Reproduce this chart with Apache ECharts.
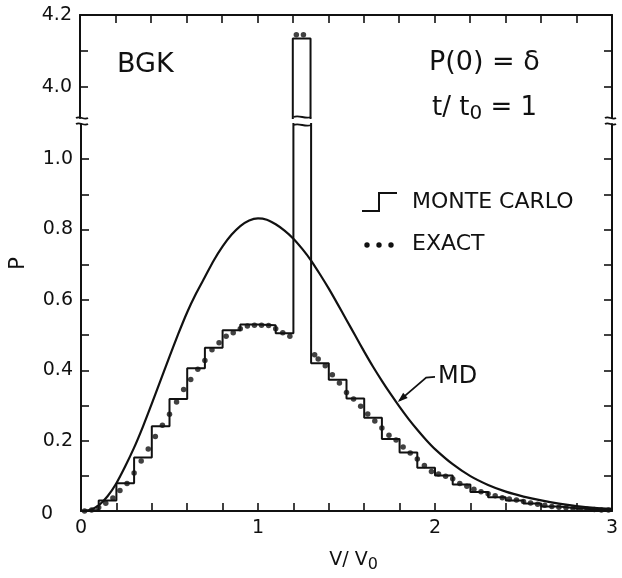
<!DOCTYPE html>
<html><head><meta charset="utf-8">
<script src="https://cdn.jsdelivr.net/npm/echarts@6/dist/echarts.min.js"></script>
<style>html,body{margin:0;padding:0;background:#fff}#c{width:622px;height:578px}</style>
</head><body><div id="c"></div>
<script>
// ---- data ----
const mcBinStart = 0, mcBinWidth = 0.1;
const mcValues = [0.003, 0.030, 0.079, 0.152, 0.241, 0.318, 0.406, 0.464, 0.514, 0.530,
                  0.528, 0.505, 4.135, 0.420, 0.373, 0.320, 0.265, 0.205, 0.166, 0.123,
                  0.101, 0.075, 0.054, 0.039, 0.030, 0.021, 0.013, 0.008, 0.005, 0.003];
const exactV = [0.02,0.06,0.10,0.14,0.18,0.22,0.26,0.30,0.34,0.38,0.42,0.46,0.50,0.54,0.58,0.62,0.66,0.70,0.74,0.78,
                0.82,0.86,0.90,0.94,0.98,1.02,1.06,1.10,1.14,1.18,1.22,1.26,1.32,1.34,1.38,1.42,1.46,1.50,1.54,1.58,
                1.62,1.66,1.70,1.74,1.78,1.82,1.86,1.90,1.94,1.98,2.02,2.06,2.10,2.14,2.18,2.22,2.26,2.30,2.34,2.38,
                2.42,2.46,2.50,2.54,2.58,2.62,2.66,2.70,2.74,2.78,2.82,2.86,2.90,2.94,2.98];
const exactP = [0.000,0.003,0.010,0.022,0.037,0.058,0.078,0.108,0.142,0.176,0.212,0.244,0.275,0.310,0.345,0.374,0.403,0.428,0.458,0.478,
                0.497,0.507,0.518,0.526,0.528,0.528,0.527,0.518,0.507,0.497,4.145,4.145,0.444,0.432,0.413,0.387,0.364,0.337,0.318,0.298,
                0.276,0.256,0.236,0.215,0.202,0.182,0.165,0.148,0.129,0.112,0.105,0.099,0.092,0.078,0.070,0.062,0.055,0.049,0.043,0.038,
                0.034,0.031,0.027,0.023,0.019,0.016,0.013,0.011,0.009,0.007,0.006,0.005,0.004,0.003,0.003];
const mdV = [0,0.05,0.1,0.15,0.2,0.25,0.3,0.35,0.4,0.45,0.5,0.55,0.6,0.65,0.7,0.75,0.8,0.85,0.9,0.95,
             1.0,1.05,1.1,1.15,1.2,1.25,1.3,1.35,1.4,1.45,1.5,1.55,1.6,1.65,1.7,1.75,1.8,1.85,1.9,1.95,
             2.0,2.1,2.2,2.3,2.4,2.5,2.6,2.7,2.8,2.9,3.0];
const mdP = [0,0.003,0.016,0.042,0.079,0.127,0.180,0.240,0.305,0.372,0.439,0.504,0.565,0.618,0.665,0.712,0.752,0.785,0.810,0.826,
             0.832,0.828,0.815,0.797,0.774,0.745,0.712,0.673,0.632,0.588,0.543,0.498,0.453,0.410,0.370,0.332,0.296,0.262,0.231,0.202,
             0.176,0.133,0.099,0.074,0.055,0.041,0.030,0.021,0.014,0.009,0.006];
const xTicks = [0.2,0.4,0.6,0.8,1.0,1.2,1.4,1.6,1.8,2.0,2.2,2.4,2.6,2.8];
const xLabels = [0,1,2,3];
const yLowTicks = [0.1,0.2,0.3,0.4,0.5,0.6,0.7,0.8,0.9,1.0];
const yLowLabels = [0,0.2,0.4,0.6,0.8,1.0];
const yHighTicks = [4.0,4.1,4.2];
const yHighLabels = [4.0,4.2];
const yLowRange = [0, 1.1], yHighRange = [3.914, 4.2];
const arrowTip = [1.79, 0.31], arrowElbow = [1.95, 0.379], arrowEnd = [2.0, 0.381];

// ---- chart ----
const FF = 'DejaVu Sans', INK = '#111';
const chart = echarts.init(document.getElementById('c'), null, {renderer: 'canvas'});
const mcData = [[mcBinStart, 0]];
mcValues.forEach((v, i) => { const a = mcBinStart + i * mcBinWidth; mcData.push([a, v], [a + mcBinWidth, v]); });
const exData = exactV.map((v, i) => [v, exactP[i]]);
const mdData = mdV.map((v, i) => [v, mdP[i]]);

const axLine = {show: true, onZero: false, lineStyle: {color: INK, width: 2}};
const tick = (vals) => ({show: true, inside: true, length: 8, customValues: vals, lineStyle: {color: INK, width: 1.6}});
const lab = {color: INK, fontFamily: FF, fontSize: 19};

chart.setOption({
  animation: false,
  backgroundColor: '#fff',
  grid: [
    {left: 80, right: 10, top: 15, height: 103},
    {left: 80, right: 10, top: 124, height: 390}
  ],
  xAxis: [
    {type: 'value', gridIndex: 0, min: 0, max: 3, position: 'top', axisLine: axLine, axisTick: tick(xTicks),
     axisLabel: {show: false}, splitLine: {show: false}},
    {type: 'value', gridIndex: 1, min: 0, max: 3, position: 'bottom', axisLine: axLine, axisTick: tick(xTicks),
     axisLabel: Object.assign({customValues: xLabels, margin: 8, formatter: v => String(v)}, lab), splitLine: {show: false},
     name: 'V/ V{s|0}', nameLocation: 'middle', nameGap: 36,
     nameTextStyle: {color: INK, fontFamily: FF, fontSize: 19, padding: [0, 0, 0, 14],
       rich: {s: {fontFamily: FF, fontSize: 16, color: INK, padding: [10, 0, 0, 0]}}}}
  ],
  yAxis: [
    {type: 'value', gridIndex: 0, min: yHighRange[0], max: yHighRange[1], position: 'left', axisLine: axLine,
     axisTick: tick(yHighTicks), axisLabel: Object.assign({customValues: yHighLabels, margin: 8, formatter: v => v.toFixed(1)}, lab),
     splitLine: {show: false}},
    {type: 'value', gridIndex: 1, min: yLowRange[0], max: yLowRange[1], position: 'left', axisLine: axLine,
     axisTick: tick(yLowTicks), axisLabel: Object.assign({customValues: yLowLabels, margin: 8,
       formatter: v => v === 0 ? '{z|0}' : v.toFixed(1),
       rich: {z: {fontFamily: FF, fontSize: 19, color: INK, padding: [6, 20, 0, 0]}}}, lab),
     splitLine: {show: false},
     name: 'P', nameLocation: 'middle', nameRotate: 90, nameGap: 52,
     nameTextStyle: {color: INK, fontFamily: FF, fontSize: 21, padding: [0, 0, 0, 108]}},
    {type: 'value', gridIndex: 0, min: yHighRange[0], max: yHighRange[1], position: 'right', axisLine: axLine,
     axisTick: tick(yHighTicks), axisLabel: {show: false}, splitLine: {show: false}},
    {type: 'value', gridIndex: 1, min: yLowRange[0], max: yLowRange[1], position: 'right', axisLine: axLine,
     axisTick: tick(yLowTicks), axisLabel: {show: false}, splitLine: {show: false}}
  ],
  series: [
    {name: 'MONTE CARLO', type: 'line', xAxisIndex: 1, yAxisIndex: 1, data: mcData, showSymbol: false, clip: true,
     lineStyle: {color: INK, width: 2}, z: 3},
    {name: 'MONTE CARLO', type: 'line', xAxisIndex: 0, yAxisIndex: 0, data: mcData, showSymbol: false, clip: true,
     lineStyle: {color: INK, width: 2}, z: 3},
    {name: 'MD', type: 'line', xAxisIndex: 1, yAxisIndex: 1, data: mdData, showSymbol: false, smooth: 0.25, clip: true,
     lineStyle: {color: INK, width: 2.2}, z: 2},
    {name: 'EXACT', type: 'scatter', xAxisIndex: 1, yAxisIndex: 1, data: exData, symbolSize: 5.5, clip: true,
     itemStyle: {color: INK}, z: 4},
    {name: 'EXACT', type: 'scatter', xAxisIndex: 0, yAxisIndex: 0, data: exData, symbolSize: 5.5, clip: true,
     itemStyle: {color: INK}, z: 4}
  ]
});

// ---- decorations (text, legend, breaks, arrow) ----
const pLow = (p) => chart.convertToPixel({xAxisIndex: 1, yAxisIndex: 1}, p);
const xL = chart.convertToPixel({xAxisIndex: 1}, 0), xR = chart.convertToPixel({xAxisIndex: 1}, 3);
const yBrkTop = chart.convertToPixel({yAxisIndex: 0}, yHighRange[0]);
const yBrkLow = chart.convertToPixel({yAxisIndex: 1}, yLowRange[1]);
const xb0 = chart.convertToPixel({xAxisIndex: 1}, mcBinStart + 12 * mcBinWidth);
const xb1 = chart.convertToPixel({xAxisIndex: 1}, mcBinStart + 13 * mcBinWidth);
function wave(x0, x1, y, a) {
  return {type: 'bezierCurve', z: 10, shape: {x1: x0, y1: y, cpx1: x0 + (x1 - x0) / 3, cpy1: y - a,
    cpx2: x0 + 2 * (x1 - x0) / 3, cpy2: y + a, x2: x1, y2: y}, style: {stroke: INK, lineWidth: 1.8, fill: null}};
}
const t = pLow(arrowTip), e = pLow(arrowElbow), f = pLow(arrowEnd);
const dx = t[0] - e[0], dy = t[1] - e[1], dl = Math.hypot(dx, dy), ux = dx / dl, uy = dy / dl;
const ah = 10, aw = 3.5;
const txt = (x, y, text, size, extra) => ({type: 'text', x: x, y: y, z: 10,
  style: Object.assign({text: text, fontFamily: FF, fontSize: size, fill: INK, verticalAlign: 'middle'}, extra || {})});

chart.setOption({graphic: [
  txt(117, 65, 'BGK', 27),
  txt(429, 63, 'P(0) = δ', 27),
  txt(432, 108, 't/ t{s|0} = 1', 26, {rich: {s: {fontFamily: FF, fontSize: 20, fill: INK, padding: [12, 0, 0, 0]}}}),
  {type: 'polyline', z: 10, shape: {points: [[362, 211], [379, 211], [379, 193], [397, 193]]},
   style: {stroke: INK, lineWidth: 2, fill: null}},
  txt(412, 202, 'MONTE CARLO', 22),
  {type: 'circle', z: 10, shape: {cx: 367, cy: 245, r: 2.7}, style: {fill: INK}},
  {type: 'circle', z: 10, shape: {cx: 379, cy: 245, r: 2.7}, style: {fill: INK}},
  {type: 'circle', z: 10, shape: {cx: 391, cy: 245, r: 2.7}, style: {fill: INK}},
  txt(412, 244, 'EXACT', 22),
  txt(f[0] + 3, f[1], 'MD', 24),
  {type: 'polyline', z: 10, shape: {points: [[t[0] - ux * 2, t[1] - uy * 2], e, f]}, style: {stroke: INK, lineWidth: 1.8, fill: null}},
  {type: 'polygon', z: 10, shape: {points: [[t[0], t[1]],
     [t[0] - ux * ah - uy * aw, t[1] - uy * ah + ux * aw],
     [t[0] - ux * ah + uy * aw, t[1] - uy * ah - ux * aw]]}, style: {fill: INK}},
  wave(xL - 5, xL + 7, yBrkTop, 2.5), wave(xL - 5, xL + 7, yBrkLow, 2.5),
  wave(xR - 7, xR + 4, yBrkTop, 2.5), wave(xR - 7, xR + 4, yBrkLow, 2.5),
  wave(xb0, xb1, yBrkTop - 1, 2.5), wave(xb0, xb1, yBrkLow + 1, 2.5)
]});
</script></body></html>
